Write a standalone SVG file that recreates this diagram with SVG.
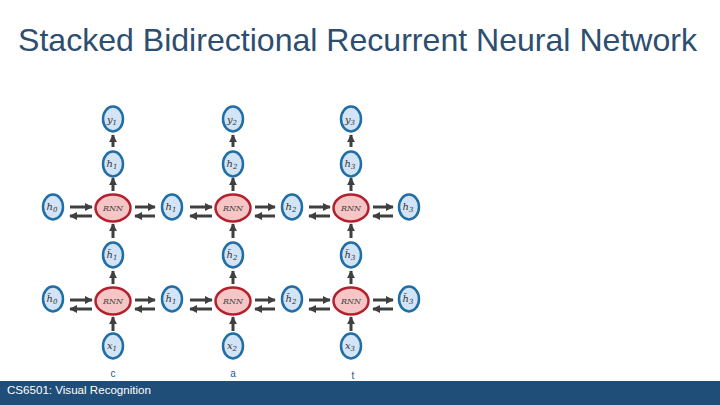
<svg xmlns="http://www.w3.org/2000/svg" width="720" height="405" viewBox="0 0 720 405">
<defs>
<marker id="ah" viewBox="0 0 10 10" refX="9" refY="5" markerWidth="8" markerHeight="8" markerUnits="userSpaceOnUse" orient="auto">
<path d="M0,0 L10,5 L0,10 z" fill="#3f3f3f"/>
</marker>
<style>
.n{fill:#d3e4f7;stroke:#1f6ea6;stroke-width:2.5}
.r{fill:#f6c5c5;stroke:#b3202e;stroke-width:2.5}
.t{font-family:"DejaVu Serif","Liberation Serif",serif;font-style:italic;font-size:10px;fill:#333;text-anchor:middle}
.rt{font-family:"DejaVu Serif","Liberation Serif",serif;font-style:italic;font-size:8px;fill:#444;text-anchor:middle}
.s{font-size:7px}
.a{stroke:#3f3f3f;stroke-width:3;fill:none;marker-end:url(#ah)}
.l{font-family:"Liberation Sans",Arial,sans-serif;font-size:10px;fill:#1f5a8a;text-anchor:middle}
</style>
</defs>
<rect width="720" height="405" fill="#fff"/>
<text x="357.5" y="51" font-family="Liberation Sans,Arial,sans-serif" font-size="30.5" fill="#2d4e6e" text-anchor="middle" textLength="679" lengthAdjust="spacingAndGlyphs">Stacked Bidirectional Recurrent Neural Network</text>

<g id="connectors">
<path class="a" d="M113,147 V135"/><path class="a" d="M233,147 V135"/><path class="a" d="M351,147 V135"/>
<path class="a" d="M113,191 V178"/><path class="a" d="M233,191 V178"/><path class="a" d="M351,191 V178"/>
<path class="a" d="M113,238 V224"/><path class="a" d="M233,238 V224"/><path class="a" d="M351,238 V224"/>
<path class="a" d="M113,284 V271"/><path class="a" d="M233,284 V271"/><path class="a" d="M351,284 V271"/>
<path class="a" d="M113,331 V317"/><path class="a" d="M233,331 V317"/><path class="a" d="M351,331 V317"/>
<path class="a" d="M70,207 H92"/><path class="a" d="M92,216 H70"/>
<path class="a" d="M135,207 H155"/><path class="a" d="M155,216 H135"/>
<path class="a" d="M190,207 H212"/><path class="a" d="M212,216 H190"/>
<path class="a" d="M255,207 H275"/><path class="a" d="M275,216 H255"/>
<path class="a" d="M309,207 H330"/><path class="a" d="M330,216 H309"/>
<path class="a" d="M373,207 H393"/><path class="a" d="M393,216 H373"/>
<path class="a" d="M70,300 H92"/><path class="a" d="M92,309 H70"/>
<path class="a" d="M135,300 H155"/><path class="a" d="M155,309 H135"/>
<path class="a" d="M190,300 H212"/><path class="a" d="M212,309 H190"/>
<path class="a" d="M255,300 H275"/><path class="a" d="M275,309 H255"/>
<path class="a" d="M309,300 H330"/><path class="a" d="M330,309 H309"/>
<path class="a" d="M373,300 H393"/><path class="a" d="M393,309 H373"/>
</g>

<g id="y1"><ellipse class="n" cx="113" cy="119" rx="10" ry="12.5"/><text class="t" x="112" y="123">y<tspan class="s" dy="2">1</tspan></text></g>
<g id="y2"><ellipse class="n" cx="233" cy="119" rx="10" ry="12.5"/><text class="t" x="232" y="123">y<tspan class="s" dy="2">2</tspan></text></g>
<g id="y3"><ellipse class="n" cx="351" cy="119" rx="10" ry="12.5"/><text class="t" x="350" y="123">y<tspan class="s" dy="2">3</tspan></text></g>
<g id="h1u"><ellipse class="n" cx="113" cy="164" rx="10" ry="12.5"/><text class="t" x="112" y="167">h<tspan class="s" dy="2">1</tspan></text></g>
<g id="h2u"><ellipse class="n" cx="233" cy="164" rx="10" ry="12.5"/><text class="t" x="232" y="167">h<tspan class="s" dy="2">2</tspan></text></g>
<g id="h3u"><ellipse class="n" cx="351" cy="164" rx="10" ry="12.5"/><text class="t" x="350" y="167">h<tspan class="s" dy="2">3</tspan></text></g>
<g id="h0a"><ellipse class="n" cx="53" cy="207" rx="10" ry="12.5"/><text class="t" x="52" y="210">h<tspan class="s" dy="2">0</tspan></text></g>
<g id="rnn11"><ellipse class="r" cx="113" cy="208" rx="17.5" ry="13.5"/><text class="rt" x="113" y="211">RNN</text></g>
<g id="h1a"><ellipse class="n" cx="172" cy="207" rx="10" ry="12.5"/><text class="t" x="171" y="210">h<tspan class="s" dy="2">1</tspan></text></g>
<g id="rnn12"><ellipse class="r" cx="233" cy="208" rx="17.5" ry="13.5"/><text class="rt" x="233" y="211">RNN</text></g>
<g id="h2a"><ellipse class="n" cx="292" cy="207" rx="10" ry="12.5"/><text class="t" x="291" y="210">h<tspan class="s" dy="2">2</tspan></text></g>
<g id="rnn13"><ellipse class="r" cx="351" cy="208" rx="17.5" ry="13.5"/><text class="rt" x="351" y="211">RNN</text></g>
<g id="h3a"><ellipse class="n" cx="409" cy="207" rx="10" ry="12.5"/><text class="t" x="408" y="210">h<tspan class="s" dy="2">3</tspan></text></g>
<g id="ht1u"><ellipse class="n" cx="113" cy="255" rx="10" ry="12.5"/><text class="t" x="112" y="258">h̃<tspan class="s" dy="2">1</tspan></text></g>
<g id="ht2u"><ellipse class="n" cx="233" cy="255" rx="10" ry="12.5"/><text class="t" x="232" y="258">h̃<tspan class="s" dy="2">2</tspan></text></g>
<g id="ht3u"><ellipse class="n" cx="351" cy="255" rx="10" ry="12.5"/><text class="t" x="350" y="258">h̃<tspan class="s" dy="2">3</tspan></text></g>
<g id="ht0"><ellipse class="n" cx="53" cy="299" rx="10" ry="12.5"/><text class="t" x="52" y="302">h̃<tspan class="s" dy="2">0</tspan></text></g>
<g id="rnn21"><ellipse class="r" cx="113" cy="301" rx="17.5" ry="13.5"/><text class="rt" x="113" y="304">RNN</text></g>
<g id="ht1"><ellipse class="n" cx="172" cy="299" rx="10" ry="12.5"/><text class="t" x="171" y="302">h̃<tspan class="s" dy="2">1</tspan></text></g>
<g id="rnn22"><ellipse class="r" cx="233" cy="301" rx="17.5" ry="13.5"/><text class="rt" x="233" y="304">RNN</text></g>
<g id="ht2"><ellipse class="n" cx="292" cy="299" rx="10" ry="12.5"/><text class="t" x="291" y="302">h̃<tspan class="s" dy="2">2</tspan></text></g>
<g id="rnn23"><ellipse class="r" cx="351" cy="301" rx="17.5" ry="13.5"/><text class="rt" x="351" y="304">RNN</text></g>
<g id="ht3"><ellipse class="n" cx="409" cy="299" rx="10" ry="12.5"/><text class="t" x="408" y="302">h̃<tspan class="s" dy="2">3</tspan></text></g>
<g id="x1"><ellipse class="n" cx="113" cy="346" rx="10" ry="12.5"/><text class="t" x="112" y="349">x<tspan class="s" dy="2">1</tspan></text></g>
<g id="x2"><ellipse class="n" cx="233" cy="346" rx="10" ry="12.5"/><text class="t" x="232" y="349">x<tspan class="s" dy="2">2</tspan></text></g>
<g id="x3"><ellipse class="n" cx="351" cy="346" rx="10" ry="12.5"/><text class="t" x="350" y="349">x<tspan class="s" dy="2">3</tspan></text></g>

<text class="l" x="113" y="377">c</text>
<text class="l" x="233" y="377">a</text>
<text class="l" x="353" y="379">t</text>

<rect x="0" y="381" width="720" height="24" fill="#1f4e79"/>
<text x="7" y="394" font-family="Liberation Sans,Arial,sans-serif" font-size="11.5" fill="#fff" textLength="144" lengthAdjust="spacingAndGlyphs">CS6501: Visual Recognition</text>
</svg>
